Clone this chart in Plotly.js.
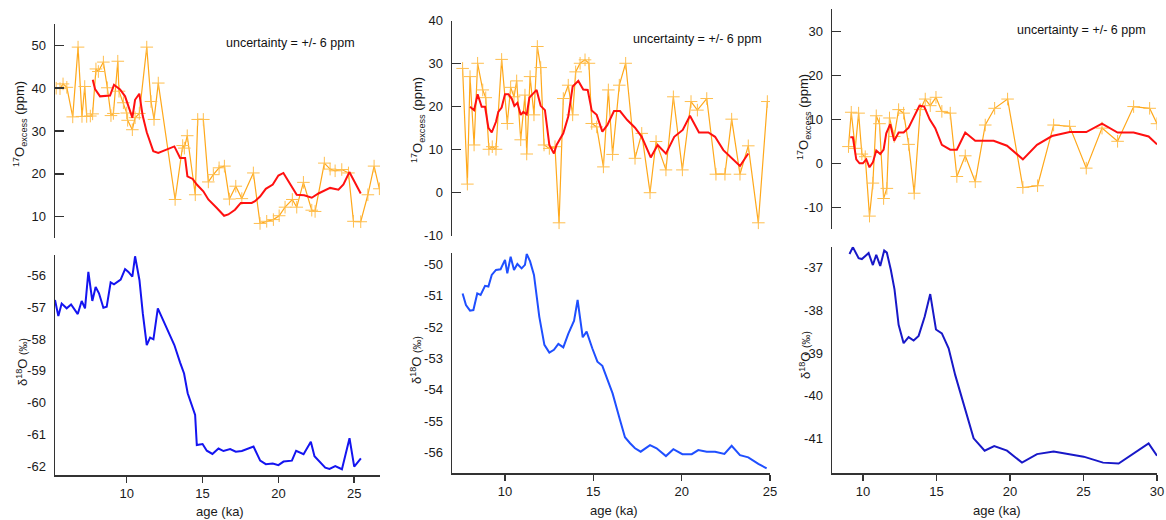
<!DOCTYPE html>
<html>
<head>
<meta charset="utf-8">
<script src="https://cdn.plot.ly/plotly-3.0.1.min.js"></script>
<style>html,body{margin:0;padding:0;background:#fff;}#chart{width:1166px;height:520px;}</style>
</head>
<body>
<div id="chart"></div>
<script>
// ---------- Panel 1 ----------
const p1AgeExcess = [5.35,5.6,5.8,6.05,6.44,6.79,7.05,7.23,7.36,7.6,7.75,7.97,8.13,8.46,8.72,8.96,9.12,9.41,9.49,9.78,10.0,10.06,10.37,10.55,10.83,11.32,11.6,11.8,12.08,13.19,13.69,13.8,13.99,14.52,14.68,15.05,15.38,15.71,16.09,16.44,16.77,17.19,17.59,18.35,18.79,19.23,19.67,20.05,20.44,20.92,21.21,21.65,22.2,22.42,23.03,23.41,23.74,24.18,24.62,24.95,25.43,25.9,26.31,26.66];
const p1Excess = [40.0,39.9,41.0,40.2,33.3,49.6,33.4,40.4,33.4,33.5,34.0,44.5,43.9,46.1,40.1,33.6,34.1,46.3,39.3,36.6,34.2,32.5,30.3,33.1,34.1,49.6,36.9,32.7,41.2,14.0,26.6,26.0,28.9,15.1,32.7,32.7,18.1,19.8,21.4,21.8,14.1,17.1,14.2,20.2,8.4,8.9,9.3,10.2,12.2,14.0,12.2,18.0,11.5,11.2,22.5,21.1,20.7,21.0,20.2,8.9,8.8,15.1,21.8,16.5];
const p1AgeSmooth = [7.76,7.91,8.24,8.9,9.16,9.56,9.89,10.1,10.37,10.55,10.83,11.05,11.32,11.75,12.08,13.14,13.52,13.85,14.0,14.35,14.62,15.05,15.38,15.94,16.42,16.7,17.14,17.52,18.24,18.46,18.79,19.17,19.63,20.0,20.33,21.21,21.7,22.2,22.64,23.41,23.96,24.29,24.68,25.43];
const p1ExcessSmooth = [42.0,39.8,38.1,38.3,40.8,39.7,38.1,35.9,33.1,37.3,38.7,33.6,29.7,25.3,24.9,26.4,23.7,23.7,19.4,18.8,17.5,15.9,14.0,12.0,10.2,10.5,11.6,13.2,13.2,13.6,14.7,16.5,17.5,19.6,20.2,15.1,15.0,14.4,15.4,16.7,16.3,17.5,20.4,15.4];
const p1AgeD18 = [5.27,5.49,5.71,6.04,6.33,6.77,7.03,7.25,7.47,7.73,7.95,8.17,8.46,8.68,8.94,9.16,9.6,9.89,10.11,10.37,10.55,10.84,11.06,11.32,11.54,11.76,12.05,13.14,13.52,13.78,14.02,14.51,14.62,15.0,15.28,15.65,16.05,16.38,16.82,17.19,17.59,18.36,18.8,19.17,19.63,20.0,20.34,20.89,21.17,21.66,22.14,22.38,23.09,23.37,23.75,24.19,24.69,25.0,25.44];
const p1D18 = [-56.78,-57.28,-56.89,-57.04,-56.92,-57.22,-56.81,-57.04,-55.9,-56.81,-56.37,-56.57,-57.02,-56.99,-56.23,-56.29,-56.14,-55.81,-55.9,-56.05,-55.41,-56.16,-57.2,-58.19,-57.96,-58.01,-57.04,-58.19,-58.74,-59.08,-59.7,-60.38,-61.32,-61.29,-61.5,-61.6,-61.43,-61.51,-61.45,-61.53,-61.51,-61.37,-61.81,-61.92,-61.9,-61.95,-61.84,-61.81,-61.5,-61.61,-61.22,-61.67,-62.03,-62.07,-61.98,-62.08,-61.11,-62.0,-61.74];

// ---------- Panel 2 ----------
const p2AgeExcess = [7.6,7.87,8.02,8.25,8.45,8.74,8.91,9.09,9.28,9.49,9.81,10.13,10.32,10.51,10.66,10.89,11.13,11.23,11.42,11.64,11.83,12.02,12.21,12.51,12.83,13.06,13.3,13.58,13.83,14.0,14.25,14.53,14.75,14.91,15.19,15.57,15.85,16.09,16.47,16.83,17.36,17.74,18.21,18.55,19.11,19.53,20.04,20.53,20.89,21.42,21.94,22.45,22.83,23.3,23.77,24.34,24.85];
const p2Excess = [28.9,2.0,27.0,11.1,30.1,23.9,22.1,10.1,10.7,10.1,31.0,16.1,24.5,22.3,26.0,12.3,22.7,9.0,27.0,18.1,34.0,29.1,11.1,10.3,10.7,-7.0,21.9,25.0,18.1,28.1,30.1,30.9,30.1,16.1,15.3,6.0,23.9,8.9,25.0,30.1,8.0,13.8,0.0,11.9,5.3,22.3,5.3,21.2,19.2,21.9,4.3,4.3,17.1,4.3,10.9,-7.0,21.2];
const p2AgeSmooth = [8.02,8.25,8.45,8.68,8.87,9.06,9.25,9.49,9.62,9.81,10.0,10.19,10.38,10.53,10.7,10.89,11.04,11.23,11.38,11.79,12.02,12.26,12.51,12.77,12.92,13.3,13.58,13.83,14.15,14.43,14.68,14.91,15.19,15.51,15.79,16.17,16.51,16.92,17.36,17.74,18.25,18.64,19.11,19.58,20.06,20.47,20.98,21.51,21.89,22.36,23.3,23.77];
const p2ExcessSmooth = [20.0,19.2,22.9,20.0,20.0,15.1,14.0,16.5,18.8,19.8,22.9,22.9,21.9,20.2,20.9,18.1,18.8,18.2,22.1,23.9,20.2,19.2,11.1,9.1,11.1,13.8,17.7,24.7,26.0,24.0,23.9,19.1,18.1,14.2,15.7,19.0,19.0,16.9,15.1,13.0,8.2,11.1,9.1,13.0,14.6,17.9,14.0,14.0,13.0,9.9,6.2,9.1];
const p2AgeD18 = [7.6,7.79,8.02,8.21,8.43,8.62,8.87,9.06,9.25,9.49,9.75,10.0,10.13,10.32,10.51,10.7,10.94,11.13,11.23,11.42,11.64,11.94,12.23,12.51,12.77,13.02,13.3,13.58,13.91,14.11,14.4,14.62,14.94,15.23,15.51,15.79,16.09,16.51,16.79,17.08,17.36,17.68,18.21,18.58,19.11,19.53,20.04,20.57,20.94,21.42,21.89,22.42,22.83,23.3,23.77,24.34,24.81];
const p2D18 = [-50.93,-51.3,-51.48,-51.46,-50.93,-50.98,-50.69,-50.71,-50.34,-50.18,-50.16,-49.86,-50.29,-49.76,-50.18,-49.99,-50.13,-50.02,-49.67,-49.91,-50.34,-51.67,-52.57,-52.82,-52.73,-52.54,-52.65,-52.22,-51.8,-51.14,-52.33,-52.15,-52.68,-53.11,-53.24,-53.69,-54.12,-54.97,-55.52,-55.71,-55.87,-55.98,-55.77,-55.87,-56.12,-55.9,-56.06,-56.06,-55.93,-55.98,-55.98,-56.05,-55.79,-56.09,-56.16,-56.37,-56.51];

// ---------- Panel 3 ----------
const p3AgeExcess = [9.02,9.21,9.48,9.71,9.93,10.16,10.45,10.68,10.91,11.13,11.41,11.63,11.81,12.13,12.43,12.77,13.11,13.49,13.9,14.24,14.58,14.97,15.37,15.94,16.39,16.96,17.64,18.32,18.96,19.84,20.88,21.88,22.97,24.06,25.19,26.26,27.32,28.41,29.5,30.0];
const p3Excess = [3.8,11.6,3.4,11.4,2.1,1.5,-12.0,-4.5,10.8,9.0,-8.0,-5.7,10.3,6.1,12.2,11.4,4.3,-6.8,12.2,14.6,13.1,15.0,11.8,11.4,-3.0,1.7,-4.2,8.7,12.5,14.6,-5.5,-5.1,8.7,8.4,-1.1,8.0,5.0,12.9,12.5,9.0];
const p3AgeSmooth = [9.14,9.32,9.55,9.77,10.0,10.23,10.45,10.68,10.91,11.18,11.41,11.59,11.86,12.13,12.43,12.77,13.11,13.49,13.85,14.17,14.54,14.92,15.37,15.94,16.39,16.96,17.64,18.89,19.8,20.88,21.84,22.86,24.06,25.19,26.26,27.32,28.41,29.43,30.0];
const p3ExcessSmooth = [5.9,5.9,0.9,0.0,0.0,0.9,-0.9,0.2,2.9,2.1,3.1,6.8,8.9,5.1,7.0,7.0,8.1,10.5,13.1,12.9,10.0,8.0,4.2,3.1,3.1,7.0,5.1,5.1,4.0,0.9,4.2,6.2,7.1,7.1,9.0,7.0,7.0,6.1,4.3];
const p3AgeD18 = [9.09,9.32,9.71,9.93,10.39,10.68,10.91,11.18,11.45,11.63,11.9,12.15,12.43,12.77,13.11,13.45,13.79,14.2,14.58,14.97,15.37,15.83,16.28,16.96,17.53,18.28,18.93,19.8,20.82,21.84,22.97,25.01,26.33,27.39,29.43,30.0];
const p3D18 = [-36.68,-36.52,-36.78,-36.8,-36.66,-36.94,-36.7,-36.96,-36.6,-36.65,-37.05,-37.51,-38.34,-38.77,-38.63,-38.71,-38.6,-38.15,-37.62,-38.45,-38.54,-38.89,-39.52,-40.34,-41.0,-41.29,-41.18,-41.29,-41.57,-41.37,-41.31,-41.43,-41.57,-41.59,-41.12,-41.41];

// ---------- Tick positions and labels ----------
const p1ExcessTickVals = [10,20,30,40,50];
const p1ExcessTickText = ['10','20','30','40','50'];
const p1ExcessMinorVals = [5,15,25,35,45,55];
const p2ExcessTickVals = [-10,0,10,20,30,40];
const p2ExcessTickText = ['-10','0','10','20','30','40'];
const p2ExcessMinorVals = [-5,5,15,25,35];
const p3ExcessTickVals = [-10,0,10,20,30];
const p3ExcessTickText = ['-10','0','10','20','30'];
const p3ExcessMinorVals = [-15,-5,5,15,25,35];
const p1D18TickVals = [-62,-61,-60,-59,-58,-57,-56];
const p1D18TickText = ['-62','-61','-60','-59','-58','-57','-56'];
const p2D18TickVals = [-56,-55,-54,-53,-52,-51,-50];
const p2D18TickText = ['-56','-55','-54','-53','-52','-51','-50'];
const p3D18TickVals = [-41,-40,-39,-38,-37];
const p3D18TickText = ['-41','-40','-39','-38','-37'];
const p1AgeTickVals = [10,15,20,25];
const p1AgeMinorVals = [7.5,12.5,17.5,22.5];
const p2AgeTickVals = [10,15,20,25];
const p2AgeMinorVals = [7.5,12.5,17.5,22.5];
const p3AgeTickVals = [10,15,20,25,30];
const p3AgeMinorVals = [12.5,17.5,22.5,27.5];

const titleExcess = '<sup>17</sup>O<sub>excess</sub> (ppm)';
const titleD18 = 'δ<sup>18</sup>O <span style="font-size:10px">(‰)</span>';
const titleAge = 'age (ka)';
const noteText = 'uncertainty = +/- 6 ppm';

const W = 1166, H = 520;
const fx = p => p / W;
const fy = p => 1 - p / H;

const ORANGE = '#FFA81A', ORANGE_MK = '#FFBE4D', RED = '#FF1010';
const AXC = '#333333';
const FONT = 'Liberation Sans, Arial, sans-serif';

function orange(x, y, xa, ya) {
  return {x, y, xaxis: xa, yaxis: ya, type: 'scatter', mode: 'lines+markers',
    line: {color: ORANGE, width: 1.2},
    marker: {symbol: 'cross-thin', size: 9, line: {width: 1, color: ORANGE_MK}},
    hoverinfo: 'skip', showlegend: false};
}
function lineT(x, y, xa, ya, c) {
  return {x, y, xaxis: xa, yaxis: ya, type: 'scatter', mode: 'lines',
    line: {color: c, width: 2}, hoverinfo: 'skip', showlegend: false};
}

const data = [
  orange(p1AgeExcess, p1Excess, 'x', 'y'),
  lineT(p1AgeSmooth, p1ExcessSmooth, 'x', 'y', RED),
  lineT(p1AgeD18, p1D18, 'x2', 'y2', '#1414F0'),
  orange(p2AgeExcess, p2Excess, 'x3', 'y3'),
  lineT(p2AgeSmooth, p2ExcessSmooth, 'x3', 'y3', RED),
  lineT(p2AgeD18, p2D18, 'x4', 'y4', '#1F4FFF'),
  orange(p3AgeExcess, p3Excess, 'x5', 'y5'),
  lineT(p3AgeSmooth, p3ExcessSmooth, 'x5', 'y5', RED),
  lineT(p3AgeD18, p3D18, 'x6', 'y6', '#1818C8')
];

const tickFont = {family: FONT, size: 13, color: '#1a1a1a'};

function topY(dom, range, vals, text, anchor) {
  return {domain: [fy(dom[1]), fy(dom[0])], range, anchor,
    tickmode: 'array', tickvals: vals, ticktext: text,
    showline: true, linecolor: AXC, linewidth: 1.5, ticks: 'inside', ticklen: 9,
    tickwidth: 1.5, tickcolor: AXC, ticklabelstandoff: 5,
    showgrid: false, zeroline: false, tickfont: tickFont, fixedrange: true};
}
// overlay axis that only carries the in-between (unlabelled) tick marks
function tickOnlyY(range, vals, overlay, anchor) {
  return {overlaying: overlay, anchor, range, side: 'left',
    tickmode: 'array', tickvals: vals, showticklabels: false,
    showline: false, ticks: 'inside', ticklen: 9, tickwidth: 1.5, tickcolor: AXC,
    showgrid: false, zeroline: false, fixedrange: true};
}
function tickOnlyX(range, vals, overlay, anchor) {
  return {overlaying: overlay, anchor, range, side: 'bottom',
    tickmode: 'array', tickvals: vals, showticklabels: false,
    showline: false, ticks: 'outside', ticklen: 6, tickwidth: 1.5, tickcolor: AXC,
    showgrid: false, zeroline: false, fixedrange: true};
}
function botY(dom, range, vals, text, anchor) {
  return {domain: [fy(dom[1]), fy(dom[0])], range, anchor,
    tickmode: 'array', tickvals: vals, ticktext: text,
    showline: true, linecolor: AXC, linewidth: 1.5, ticks: '',
    ticklabelstandoff: 5,
    showgrid: false, zeroline: false, tickfont: tickFont, fixedrange: true};
}
function botX(dom, range, vals, anchor) {
  return {domain: [fx(dom[0]), fx(dom[1])], range, anchor,
    tickmode: 'array', tickvals: vals, ticktext: vals.map(String),
    showline: true, linecolor: AXC, linewidth: 1.5, ticks: 'outside', ticklen: 6,
    tickwidth: 1.5, tickcolor: AXC,
    showgrid: false, zeroline: false, tickfont: tickFont, fixedrange: true};
}
function topX(dom, range, anchor) {
  return {domain: [fx(dom[0]), fx(dom[1])], range, anchor, visible: false, fixedrange: true};
}

const P1X = [55, 380], P2X = [452, 770], P3X = [832, 1157];
const P1R = [5.27, 26.7], P2R = [7.0, 25.0], P3R = [7.9, 30.0];
const layout = {
  width: W, height: H, margin: {l: 0, r: 0, t: 0, b: 0},
  paper_bgcolor: '#ffffff', plot_bgcolor: 'rgba(0,0,0,0)',
  font: {family: FONT, size: 13, color: '#1a1a1a'},
  showlegend: false,
  xaxis: topX(P1X, P1R, 'y'),
  yaxis: topY([24, 238], [5, 55], p1ExcessTickVals, p1ExcessTickText, 'x'),
  xaxis2: botX(P1X, P1R, p1AgeTickVals, 'y2'),
  yaxis2: botY([255, 475], [-62.26, -55.37], p1D18TickVals, p1D18TickText, 'x2'),
  xaxis3: topX(P2X, P2R, 'y3'),
  yaxis3: topY([20.7, 235.7], [-10, 40], p2ExcessTickVals, p2ExcessTickText, 'x3'),
  xaxis4: botX(P2X, P2R, p2AgeTickVals, 'y4'),
  yaxis4: botY([253.3, 473.3], [-56.67, -49.65], p2D18TickVals, p2D18TickText, 'x4'),
  xaxis5: topX(P3X, P3R, 'y5'),
  yaxis5: topY([9.3, 229.3], [-15, 35], p3ExcessTickVals, p3ExcessTickText, 'x5'),
  xaxis6: botX(P3X, P3R, p3AgeTickVals, 'y6'),
  yaxis6: botY([246.7, 473.3], [-41.82, -36.51], p3D18TickVals, p3D18TickText, 'x6'),
  // unlabelled in-between ticks
  yaxis7: tickOnlyY([5, 55], p1ExcessMinorVals, 'y', 'x'),
  yaxis8: tickOnlyY([-10, 40], p2ExcessMinorVals, 'y3', 'x3'),
  yaxis9: tickOnlyY([-15, 35], p3ExcessMinorVals, 'y5', 'x5'),
  xaxis7: tickOnlyX(P1R, p1AgeMinorVals, 'x2', 'y2'),
  xaxis8: tickOnlyX(P2R, p2AgeMinorVals, 'x4', 'y4'),
  xaxis9: tickOnlyX(P3R, p3AgeMinorVals, 'x6', 'y6'),
  annotations: []
};

function ann(text, px, py, opts) {
  return Object.assign({text, xref: 'paper', yref: 'paper', x: fx(px), y: fy(py),
    xanchor: 'center', yanchor: 'middle', showarrow: false,
    font: {family: FONT, size: 13, color: '#1a1a1a'}}, opts || {});
}
// notes
const noteFont = {family: FONT, size: 12.5, color: '#111'};
layout.annotations.push(ann(noteText, 290, 43, {font: noteFont}));
layout.annotations.push(ann(noteText, 697, 39, {font: noteFont}));
layout.annotations.push(ann(noteText, 1081, 30, {font: noteFont}));
// y titles
layout.annotations.push(ann(titleExcess, 20, 124, {textangle: -90}));
layout.annotations.push(ann(titleExcess, 418, 120, {textangle: -90}));
layout.annotations.push(ann(titleExcess, 804, 117, {textangle: -90}));
layout.annotations.push(ann(titleD18, 22, 362, {textangle: -90}));
layout.annotations.push(ann(titleD18, 416, 360, {textangle: -90}));
layout.annotations.push(ann(titleD18, 805, 355, {textangle: -90}));
// x titles
layout.annotations.push(ann(titleAge, 220, 511));
layout.annotations.push(ann(titleAge, 614, 510));
layout.annotations.push(ann(titleAge, 997, 510));

Plotly.newPlot('chart', data, layout, {staticPlot: true, displayModeBar: false});
</script>
</body>
</html>
